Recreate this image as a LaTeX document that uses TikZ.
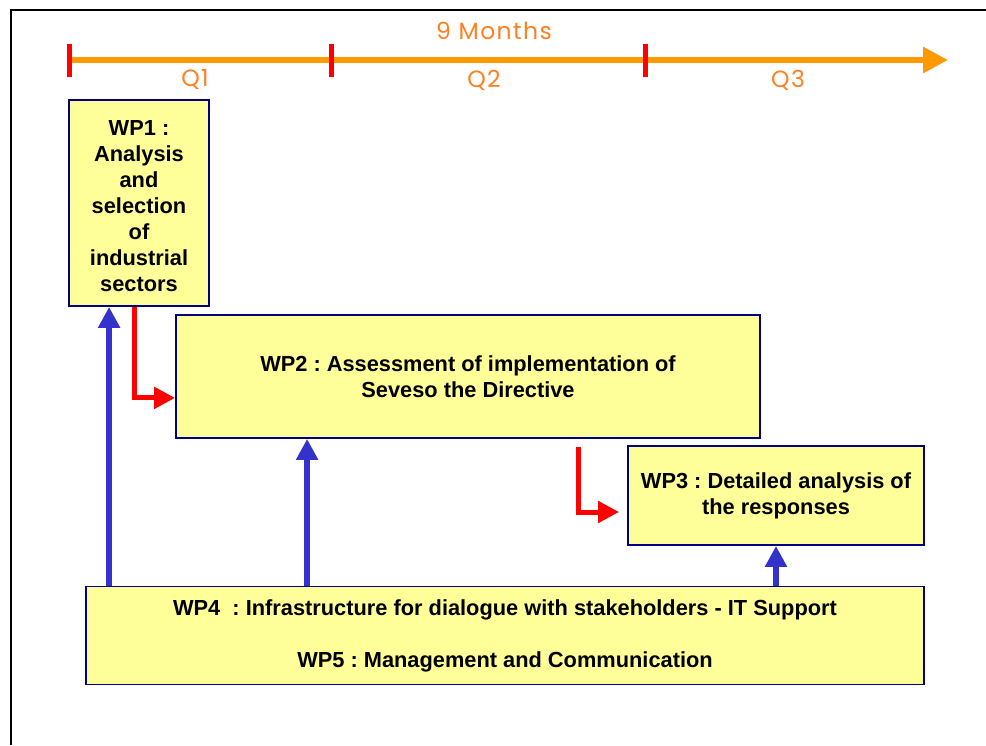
\documentclass[tikz,border=0pt]{standalone}
\usepackage{fontspec}
\setmainfont{Liberation Sans}
\newfontfamily\tlfont[LetterSpace=6]{Poppins}
\usetikzlibrary{arrows.meta,calc}
\definecolor{boxfill}{RGB}{255,255,153}
\definecolor{boxdraw}{RGB}{0,0,128}
\definecolor{tlorange}{RGB}{255,153,0}
\definecolor{tltext}{RGB}{255,128,32}
\definecolor{arrblue}{RGB}{51,51,204}
\tikzset{
  wpbox/.style={draw=boxdraw, fill=boxfill, line width=1.8pt, align=center, inner sep=0pt,
    font=\fontsize{21.8}{26}\selectfont\bfseries\frenchspacing},
  tick/.style={draw=red, line width=5pt},
  tllabel/.style={text=tltext, font=\tlfont\fontsize{23.5}{26}\selectfont, inner sep=0pt},
  bluearr/.style={draw=arrblue, line width=6pt, -{Triangle[width=21pt,length=21pt]}},
  redarr/.style={draw=red, line width=5pt, -{Triangle[width=21pt,length=21pt]}}
}
\begin{document}
\begin{tikzpicture}[x=1pt,y=-1pt]
\useasboundingbox (0,0) rectangle (986,745);
% frame
\draw[line width=2pt] (11,745) -- (11,10) -- (986,10);
% timeline
\coordinate (t0) at (68,60);
\coordinate (tend) at (948,60);
\draw[draw=tlorange, line width=6.5pt, -{Triangle[width=25pt,length=25pt]}] (t0) -- (tend);
\draw[tick] (69,44) -- (69,77);
\draw[tick] (331,44) -- (331,77);
\draw[tick] (645,44) -- (645,77);
\node[tllabel] (months) at (494,31) {9 Months};
\node[tllabel] (q1) at (195,80) {Q1};
\node[tllabel] (q2) at (484,80) {Q2};
\node[tllabel] (q3) at (788,80) {Q3};
% boxes
\node[wpbox, minimum width=140pt, minimum height=206pt] (wp1) at (139,203)
  {\rule{0pt}{22pt}WP1 :\\Analysis\\and\\selection\\of\\industrial\\sectors};
\node[wpbox, minimum width=584pt, minimum height=123pt] (wp2) at (468,376.5)
  {WP2 : Assessment of implementation of\\Seveso the Directive};
\node[wpbox, minimum width=296pt, minimum height=99pt] (wp3) at (776,495.5)
  {WP3 : Detailed analysis of\\the responses};
\node[wpbox, minimum width=838pt, minimum height=98pt] (wp4) at (505,635.5)
  {WP4\ \ : Infrastructure for dialogue with stakeholders - IT Support\\[26pt]WP5 : Management and Communication};
% blue arrows
\coordinate (b1) at ($(wp1.south west)+(41,0)$);
\coordinate (b2) at ($(wp2.south west)+(132,0)$);
\draw[bluearr] (wp4.north -| b1) -- (b1);
\draw[bluearr] (wp4.north -| b2) -- (b2);
\draw[bluearr] (wp4.north -| wp3.south) -- (wp3.south);
% red arrows
\coordinate (r1s) at ($(wp1.south west)+(66,0)$);
\coordinate (r1e) at ($(wp2.south west)+(0,-41)$);
\draw[redarr] (r1s) |- (r1e);
\coordinate (r2s) at ($(wp2.south west)+(403,8)$);
\coordinate (r2e) at ($(wp3.west)+(-8,16.5)$);
\draw[redarr] (r2s) |- (r2e);
\end{tikzpicture}
\end{document}
